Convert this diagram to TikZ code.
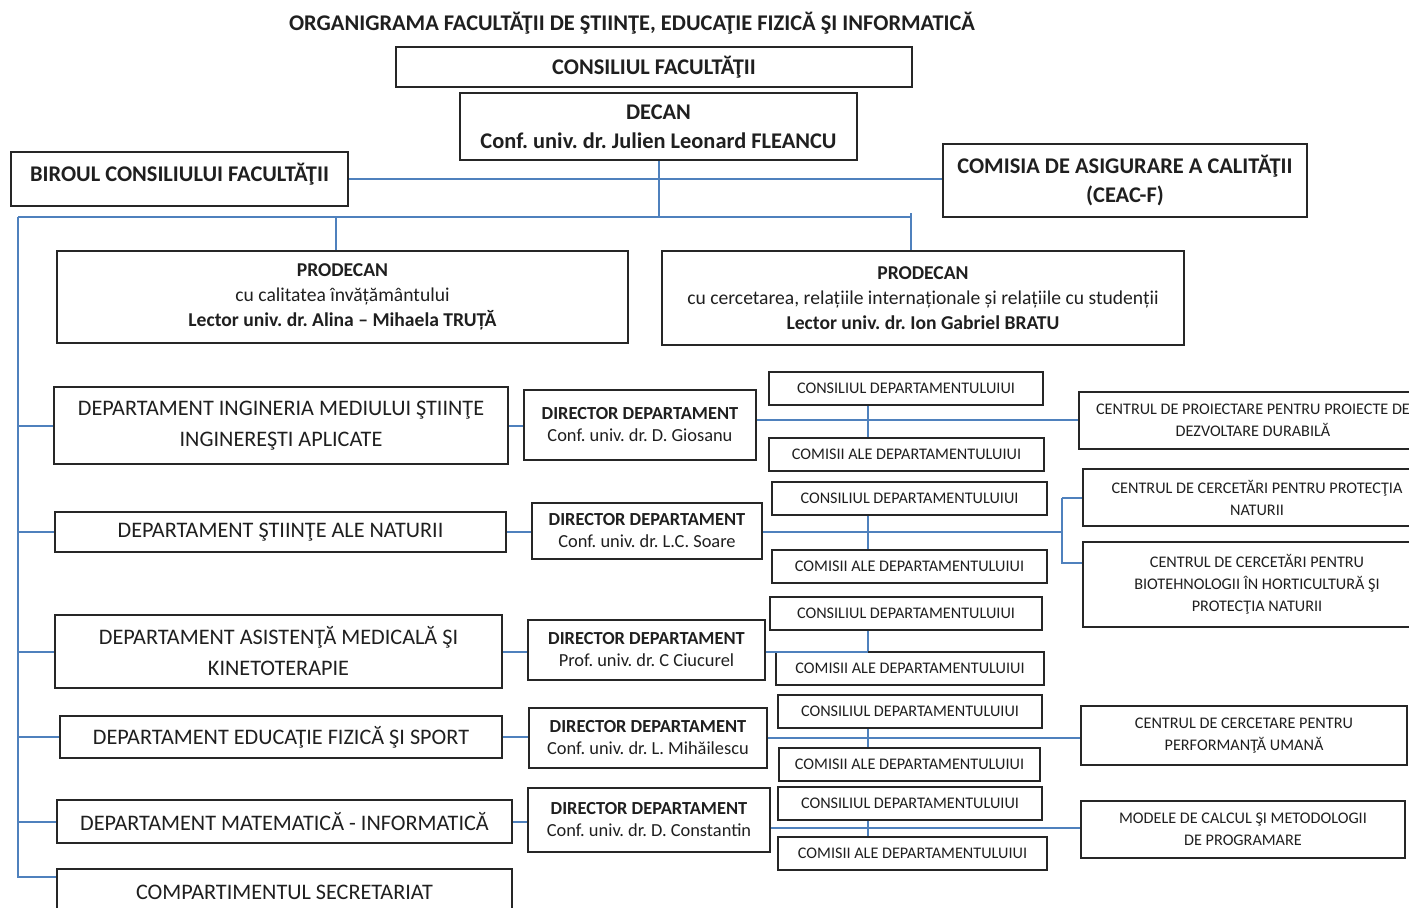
\documentclass[tikz,border=0pt]{standalone}
\usepackage{fontspec}
\setmainfont{Carlito}
\frenchspacing
\definecolor{linkblue}{RGB}{79,129,189}
\definecolor{boxline}{RGB}{38,38,38}
\tikzset{
  box/.style={draw=boxline, line width=1pt, align=center, inner sep=0pt, text=black!88},
  wh/.style 2 args={minimum width=#1*0.5pt, minimum height=#2*0.5pt},
  link/.style={draw=linkblue, line width=1pt},
  title/.style={font=\bfseries\fontsize{11.2}{13}\selectfont, text=black!88},
  big/.style={font=\bfseries\fontsize{11.2}{14.5}\selectfont},
  pro/.style={font=\fontsize{9.8}{12.5}\selectfont},
  dept/.style={font=\fontsize{11.1}{15.5}\selectfont},
  dir/.style={font=\fontsize{9.2}{11}\selectfont},
  small/.style={font=\fontsize{8.1}{11}\selectfont}
}
\begin{document}
\begin{tikzpicture}[x=0.5pt, y=-0.5pt]
\clip (0,0) rectangle (1409,907);

\node [title] (titlu) at (632,23) {ORGANIGRAMA FACULTĂŢII DE ŞTIINŢE, EDUCAŢIE FIZICĂ ŞI INFORMATICĂ};

\node [box, wh={516}{40}, big] (consiliu) at (654,67) {CONSILIUL FACULTĂŢII};
\node [box, wh={397}{67}, big] (decan) at (658.5,126.5) {DECAN\\Conf. univ. dr. Julien Leonard FLEANCU};
\node [box, wh={337}{54}, big] (birou) at (179.5,179) {\raisebox{2.5pt}[\height][\depth]{BIROUL CONSILIULUI FACULTĂŢII}};
\node [box, wh={364}{73}, big] (ceac) at (1125,180.5) {COMISIA DE ASIGURARE A CALITĂŢII\\(CEAC-F)};

\node [box, wh={571}{92}, pro] (prodecan-1) at (342.5,297)
  {\textbf{PRODECAN}\\cu calitatea învățământului\\\textbf{Lector univ. dr. Alina – Mihaela TRUȚĂ}};
\node [box, wh={522}{94}, pro] (prodecan-2) at (923,298)
  {\textbf{PRODECAN}\\cu cercetarea, relațiile internaționale și relațiile cu studenții\\\textbf{Lector univ. dr. Ion Gabriel BRATU}};

\foreach \n/\x/\y/\w/\h/\t in {
    1/281/425.5/454/77/{DEPARTAMENT INGINERIA MEDIULUI ŞTIINŢE\\INGINEREŞTI APLICATE},
    2/280.5/532/451/40/{DEPARTAMENT ŞTIINŢE ALE NATURII},
    3/278.5/651.5/447/73/{DEPARTAMENT ASISTENŢĂ MEDICALĂ ŞI\\KINETOTERAPIE},
    4/281/737/442/42/{DEPARTAMENT EDUCAŢIE FIZICĂ ŞI SPORT},
    5/284.5/821.5/455/43/{DEPARTAMENT MATEMATICĂ - INFORMATICĂ}}
  \node [box, wh={\w}{\h}, dept] (dep-\n) at (\x,\y) {\t};
\node [box, wh={455}{46}, dept, anchor=north] (secretariat) at (284.5,868) {COMPARTIMENTUL SECRETARIAT};

\foreach \n/\x/\y/\w/\h/\t in {
    1/640/425/232/70/{Conf. univ. dr. D. Giosanu},
    2/647/531/230/56/{Conf. univ. dr. L.C. Soare},
    3/646.5/650/237/60/{Prof. univ. dr. C Ciucurel},
    4/648/738/238/60/{Conf. univ. dr. L. Mihăilescu},
    5/649/820/242/64/{Conf. univ. dr. D. Constantin}}
  \node [box, wh={\w}{\h}, dir] (dir-\n) at (\x,\y) {\textbf{DIRECTOR DEPARTAMENT}\\\t};

\foreach \n/\cx/\cy/\cw/\kx/\ky/\kw in {
    1/906/388.5/274/906.5/454/275,
    2/909.5/498.5/275/909.5/566/275,
    3/906/613/272/910/668/268,
    4/910/711.5/264/909.5/764.5/261,
    5/910/803/264/912.5/853.5/269} {
  \node [box, wh={\cw}{33}, small] (cons-\n) at (\cx,\cy) {CONSILIUL DEPARTAMENTULUIUI};
  \node [box, wh={\kw}{33}, small] (com-\n) at (\kx,\ky) {COMISII ALE DEPARTAMENTULUIUI};
}

\node [box, wh={348}{57}, small] (cen-1) at (1253,420.5) {CENTRUL DE PROIECTARE PENTRU PROIECTE DE\\DEZVOLTARE DURABILĂ};
\node [box, wh={348}{57}, small] (cen-2) at (1257,497.5) {CENTRUL DE CERCETĂRI PENTRU PROTECŢIA\\NATURII};
\node [box, wh={348}{85}, small] (cen-3) at (1257,584.5) {CENTRUL DE CERCETĂRI PENTRU\\BIOTEHNOLOGII ÎN HORTICULTURĂ ŞI\\PROTECŢIA NATURII};
\node [box, wh={326}{59}, small] (cen-4) at (1244,735.5) {CENTRUL DE CERCETARE PENTRU\\PERFORMANŢĂ UMANĂ};
\node [box, wh={324}{57}, small] (cen-5) at (1243,829.5) {MODELE DE CALCUL ŞI METODOLOGII\\DE PROGRAMARE};

\coordinate (bus-l) at (18,217);
\coordinate (bus-r) at (911,217);
\coordinate (tap-1) at (336,217);
\coordinate (trunk-end) at (18,877);

\draw [link] (birou.east) -- (birou.east -| ceac.west);
\draw [link] (decan.south) -- (decan.south |- bus-l);
\draw [link] (bus-l) -- (bus-r) -- (bus-r |- prodecan-2.north);
\draw [link] (bus-r) -- ++(0,-4);
\draw [link] (tap-1) -- (tap-1 |- prodecan-1.north);
\draw [link] (bus-l) -- (trunk-end) -- (trunk-end -| secretariat.west);

\foreach \n in {1,...,5} {
  \draw [link] (dep-\n.west -| bus-l) -- (dep-\n.west);
  \draw [link] (dep-\n.east) -- (dep-\n.east -| dir-\n.west);
}

\foreach \n/\y in {1/420, 2/532, 3/652, 4/738, 5/828} {
  \coordinate (j-\n) at (868,\y);
  \draw [link] (dir-\n.east |- j-\n) -- (j-\n);
  \draw [link] (cons-\n.south -| j-\n) -- (com-\n.north -| j-\n);
}

\coordinate (fork-a) at (1062,497.5);
\coordinate (fork-b) at (1062,563);
\draw [link] (j-1) -- (j-1 -| cen-1.west);
\draw [link] (j-2) -- (j-2 -| fork-a);
\draw [link] (fork-a) -- (cen-2.west);
\draw [link] (fork-a) -- (fork-b) -- (fork-b -| cen-3.west);
\draw [link] (j-4) -- (j-4 -| cen-4.west);
\draw [link] (j-5) -- (j-5 -| cen-5.west);

\end{tikzpicture}
\end{document}
